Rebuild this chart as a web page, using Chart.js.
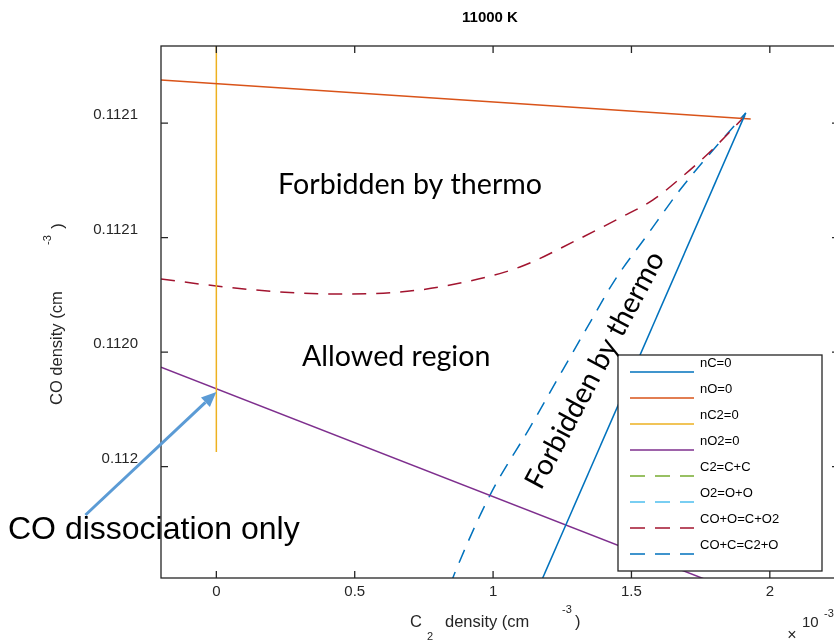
<!DOCTYPE html>
<html lang="en">
<head>
<meta charset="UTF-8" />
<title>11000 K</title>
<script src="https://cdn.jsdelivr.net/npm/chart.js"></script>
<style>
  html, body { margin: 0; padding: 0; background: #fff; overflow: hidden; }
  #wrap { width: 845px; height: 643px; }
</style>
</head>
<body>
<div id="wrap"><canvas id="chart" width="845" height="643"></canvas></div>
<script>
// x: C2 density (units of 1e-3 cm^-3), y: CO density (cm^-3)
const xTicks = [0, 0.5, 1, 1.5, 2];
const yTicks = [0.112, 0.11205, 0.1121, 0.11215];
const yTickLabels = ["0.112", "0.1120", "0.1121", "0.1121"];

const nC_x = [1.168, 1.913];
const nC_y = [0.1119483, 0.1121545];
const nO_x = [-0.2, 1.931];
const nO_y = [0.1121689, 0.1121518];
const nC2_x = [0, 0];
const nC2_y = [0.1120064, 0.1122];
const nO2_x = [-0.2, 1.82];
const nO2_y = [0.1120435, 0.1119483];
const c2cc_x = [];
const c2cc_y = [];
const o2oo_x = [];
const o2oo_y = [];
const coo_x = [-0.2, 0, 0.231, 0.437, 0.664, 0.845, 1.097, 1.303, 1.458, 1.578, 1.682, 1.791, 1.910];
const coo_y = [0.1120820, 0.1120789, 0.1120763, 0.1120754, 0.1120763, 0.1120793, 0.1120872,
               0.1120990, 0.1121086, 0.1121165, 0.1121265, 0.1121383, 0.1121531];
const coc_x = [0.845, 0.863, 0.989, 1.134, 1.235, 1.339, 1.440, 1.552, 1.675, 1.773, 1.913];
const coc_y = [0.1119483, 0.1119540, 0.1119876, 0.1120173, 0.1120387, 0.1120606, 0.1120815,
               0.1121003, 0.1121208, 0.1121352, 0.1121545];

const pts = (xs, ys) => xs.map((v, i) => ({ x: v, y: ys[i] }));
const DASH = [14, 10];

function series(label, xs, ys, color, dashed, curved) {
  return {
    label: label,
    data: pts(xs, ys),
    borderColor: color,
    borderWidth: 1.5,
    borderDash: dashed ? DASH : [],
    showLine: true,
    pointRadius: 0,
    cubicInterpolationMode: curved ? "monotone" : "default",
    tension: 0,
  };
}

const datasets = [
  series("nC=0", nC_x, nC_y, "#0072BD", false, false),
  series("nO=0", nO_x, nO_y, "#D95319", false, false),
  series("nC2=0", nC2_x, nC2_y, "#EDB120", false, false),
  series("nO2=0", nO2_x, nO2_y, "#7E2F8E", false, false),
  series("C2=C+C", c2cc_x, c2cc_y, "#77AC30", true, false),
  series("O2=O+O", o2oo_x, o2oo_y, "#4DBEEE", true, false),
  series("CO+O=C+O2", coo_x, coo_y, "#A2142F", true, true),
  series("CO+C=C2+O", coc_x, coc_y, "#0072BD", true, true),
];

const INK = "#262626";
const AX = "'Liberation Sans', Arial, sans-serif";

// box around plot with inward ticks on all sides
const frame = {
  id: "frame",
  afterDatasetsDraw(chart) {
    const { ctx, chartArea: a, scales } = chart;
    ctx.save();
    ctx.strokeStyle = INK;
    ctx.lineWidth = 1.3;
    ctx.setLineDash([]);
    ctx.strokeRect(a.left, a.top, a.right - a.left, a.bottom - a.top);
    ctx.beginPath();
    xTicks.forEach(v => {
      const px = scales.x.getPixelForValue(v);
      ctx.moveTo(px, a.bottom); ctx.lineTo(px, a.bottom - 7);
      ctx.moveTo(px, a.top); ctx.lineTo(px, a.top + 7);
    });
    yTicks.forEach(v => {
      const py = scales.y.getPixelForValue(v);
      ctx.moveTo(a.left, py); ctx.lineTo(a.left + 7, py);
      ctx.moveTo(a.right, py); ctx.lineTo(a.right - 7, py);
    });
    ctx.stroke();
    ctx.restore();
  }
};

function txt(ctx, s, x, y, font, align, angle) {
  ctx.save();
  ctx.translate(x, y);
  if (angle) ctx.rotate(angle);
  ctx.font = font;
  ctx.textAlign = align || "left";
  ctx.textBaseline = "middle";
  ctx.fillText(s, 0, 0);
  ctx.restore();
}

const overlay = {
  id: "overlay",
  afterDraw(chart) {
    const { ctx, chartArea: a, scales: { x, y } } = chart;
    ctx.save();

    // legend box
    const L = a.right - 221, T = a.top + 309, W = 204, H = 216;
    ctx.fillStyle = "#fff";
    ctx.fillRect(L, T, W, H);
    ctx.strokeStyle = INK;
    ctx.lineWidth = 1.3;
    ctx.strokeRect(L, T, W, H);
    chart.data.datasets.forEach((ds, i) => {
      const ly = T + 17 + 26 * i;
      ctx.beginPath();
      ctx.setLineDash(ds.borderDash.length ? [15, 10] : []);
      ctx.strokeStyle = ds.borderColor;
      ctx.lineWidth = 1.5;
      ctx.moveTo(L + 12, ly);
      ctx.lineTo(L + 76, ly);
      ctx.stroke();
      ctx.setLineDash([]);
      ctx.fillStyle = "#000";
      txt(ctx, ds.label, L + 82, ly - 9, "13px " + AX, "left");
    });

    // region annotations
    ctx.fillStyle = "#000";
    const fam = "Lato, 'Open Sans', sans-serif";
    ctx.font = "100px " + fam;
    const size = 100 * 264 / ctx.measureText("Forbidden by thermo").width;
    const af = size.toFixed(1) + "px " + fam;
    txt(ctx, "Forbidden by thermo", x.getPixelForValue(0.70), y.getPixelForValue(0.1121230), af, "center");
    txt(ctx, "Allowed region", x.getPixelForValue(0.65), y.getPixelForValue(0.1120479), af, "center");
    txt(ctx, "Forbidden by thermo", x.getPixelForValue(1.368), y.getPixelForValue(0.1120422), af, "center", -62 * Math.PI / 180);

    // arrow to the nC2=0 / nO2=0 crossing
    const tx = x.getPixelForValue(0), ty = y.getPixelForValue(0.1120326);
    const sx = x.getPixelForValue(-0.473), sy = y.getPixelForValue(0.1119789);
    const ang = Math.atan2(ty - sy, tx - sx);
    const hl = 15, hw = 6.5;
    const bx = tx - hl * Math.cos(ang), by = ty - hl * Math.sin(ang);
    ctx.strokeStyle = "#5B9BD5";
    ctx.fillStyle = "#5B9BD5";
    ctx.lineWidth = 3;
    ctx.beginPath();
    ctx.moveTo(sx, sy);
    ctx.lineTo(bx, by);
    ctx.stroke();
    ctx.beginPath();
    ctx.moveTo(tx, ty);
    ctx.lineTo(bx + hw * Math.sin(ang), by - hw * Math.cos(ang));
    ctx.lineTo(bx - hw * Math.sin(ang), by + hw * Math.cos(ang));
    ctx.closePath();
    ctx.fill();

    ctx.fillStyle = "#000";
    txt(ctx, "CO dissociation only", 8, 530, "32px " + AX, "left");

    // title
    ctx.fillStyle = "#000";
    txt(ctx, "11000 K", 490, 18, "bold 15px " + AX, "center");

    // axis titles
    ctx.fillStyle = INK;
    const lf = "16.5px " + AX, sf = "11px " + AX;
    txt(ctx, "CO density (cm", 57, 405, lf, "left", -Math.PI / 2);
    txt(ctx, "-3", 48, 240, sf, "center", -Math.PI / 2);
    txt(ctx, ")", 58, 226, lf, "center", -Math.PI / 2);

    txt(ctx, "C", 410, 622, lf, "left");
    txt(ctx, "2", 430, 637, sf, "center");
    txt(ctx, "density (cm", 445, 622, lf, "left");
    txt(ctx, "-3", 567, 610, sf, "center");
    txt(ctx, ")", 575, 622, lf, "left");

    txt(ctx, "\u00D7", 792, 636, "16px " + AX, "center");
    txt(ctx, "10", 802, 623, "15px " + AX, "left");
    txt(ctx, "-3", 824, 614, sf, "left");

    ctx.restore();
  }
};

new Chart(document.getElementById("chart"), {
  type: "scatter",
  data: { datasets: datasets },
  options: {
    responsive: false,
    animation: false,
    devicePixelRatio: 1,
    layout: { padding: { top: 46, right: 6, bottom: 0, left: 0 } },
    plugins: {
      legend: { display: false },
      title: { display: false },
      tooltip: { enabled: false },
    },
    scales: {
      x: {
        type: "linear",
        min: -0.2,
        max: 2.25,
        afterFit: s => { s.height = 65; },
        afterBuildTicks: s => { s.ticks = xTicks.map(v => ({ value: v })); },
        grid: { display: false, drawTicks: false },
        border: { display: false },
        ticks: {
          padding: 5,
          color: INK,
          font: { family: AX, size: 15 },
          callback: v => String(v),
        },
      },
      y: {
        type: "linear",
        min: 0.1119514,
        max: 0.1121837,
        afterFit: s => { s.width = 161; },
        afterBuildTicks: s => { s.ticks = yTicks.map(v => ({ value: v })); },
        grid: { display: false, drawTicks: false },
        border: { display: false },
        ticks: {
          padding: 23,
          labelOffset: -8,
          color: INK,
          font: { family: AX, size: 15 },
          callback: (v, i) => yTickLabels[i],
        },
      },
    },
  },
  plugins: [frame, overlay],
});
</script>
</body>
</html>
